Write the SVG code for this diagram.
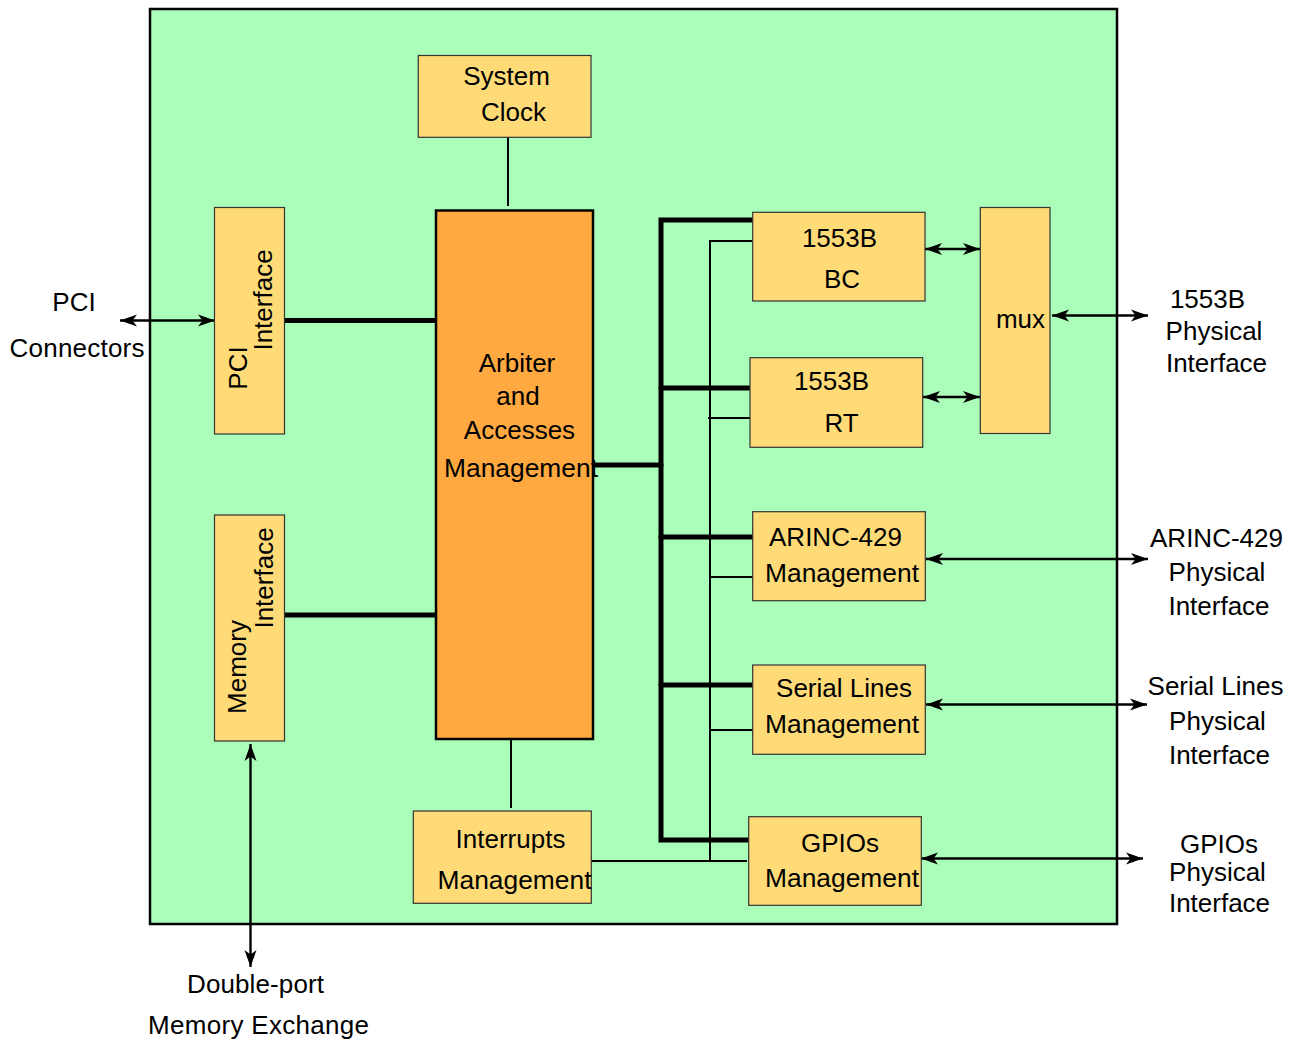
<svg xmlns="http://www.w3.org/2000/svg" width="1300" height="1043" viewBox="0 0 1300 1043">
<style>
text{font-family:"Liberation Sans",Arial,sans-serif;font-size:26px;fill:#000;text-anchor:middle}
.box{fill:#FFDB78;stroke:#333;stroke-width:1.2}
.thick{stroke:#000;stroke-width:5;stroke-linecap:round;fill:none}
.thin{stroke:#000;stroke-width:2;fill:none}
.arr{stroke:#000;stroke-width:2.4;fill:none;marker-start:url(#ah);marker-end:url(#ah)}
</style>
<defs>
<marker id="ah" viewBox="0 0 17 13" refX="17" refY="6.5" markerWidth="17" markerHeight="13" markerUnits="userSpaceOnUse" orient="auto-start-reverse">
<path d="M17,6.5 L0,0.5 L4.5,6.5 L0,12.5 Z" fill="#000"/>
</marker>
</defs>
<rect id="board" x="150" y="9" width="967" height="915" fill="#ABFEB9" stroke="#000" stroke-width="2.5"/>
<g id="connectors">
<line class="thin" x1="508" y1="137" x2="508" y2="206"/>
<line class="thin" x1="511" y1="739" x2="511" y2="808"/>
<line class="thick" x1="284" y1="320.5" x2="436" y2="320.5"/>
<line class="thick" x1="284" y1="615" x2="436" y2="615"/>
<line class="thick" x1="593" y1="465" x2="661" y2="465"/>
<polyline class="thick" points="752,220 661,220 661,840 752,840"/>
<line class="thick" x1="661" y1="388" x2="756" y2="388"/>
<line class="thick" x1="661" y1="537" x2="755" y2="537"/>
<line class="thick" x1="661" y1="685" x2="755" y2="685"/>
<polyline class="thin" points="752,241 710,241 710,861"/>
<line class="thin" x1="708" y1="418" x2="750" y2="418"/>
<line class="thin" x1="710" y1="577" x2="753" y2="577"/>
<line class="thin" x1="710" y1="730" x2="753" y2="730"/>
<line class="thin" x1="591" y1="861" x2="747" y2="861"/>
<line class="arr" x1="120" y1="320.5" x2="215" y2="320.5"/>
<line class="arr" x1="250.5" y1="744" x2="250.5" y2="967"/>
<line class="arr" x1="925" y1="249" x2="980" y2="249"/>
<line class="arr" x1="923" y1="397" x2="980" y2="397"/>
<line class="arr" x1="1052" y1="315.5" x2="1148" y2="315.5"/>
<line class="arr" x1="926" y1="559" x2="1148" y2="559"/>
<line class="arr" x1="926" y1="704.5" x2="1147" y2="704.5"/>
<line class="arr" x1="921" y1="858.5" x2="1143" y2="858.5"/>
</g>
<g id="clock"><rect class="box" x="418.3" y="55.5" width="172.7" height="81.8"/><text x="506.5" y="85">System</text><text x="513.5" y="121">Clock</text></g>
<g id="arbiter"><rect x="436" y="210.5" width="157" height="528.5" fill="#FFA940" stroke="#000" stroke-width="2.5"/><text x="517" y="372">Arbiter</text><text x="518" y="405">and</text><text x="519.5" y="439">Accesses</text><text x="521" y="476.5" textLength="154" lengthAdjust="spacingAndGlyphs">Management</text></g>
<g id="pci"><rect class="box" x="214.5" y="207.5" width="70" height="226.5"/><text transform="translate(247,368) rotate(-90)">PCI</text><text transform="translate(272,300) rotate(-90)">Interface</text></g>
<g id="memory"><rect class="box" x="214.5" y="515" width="70" height="226"/><text transform="translate(245.5,667) rotate(-90)">Memory</text><text transform="translate(273,578) rotate(-90)">Interface</text></g>
<g id="interrupts"><rect class="box" x="413.3" y="811" width="178" height="92.3"/><text x="510.5" y="848">Interrupts</text><text x="514.5" y="889" textLength="154" lengthAdjust="spacingAndGlyphs">Management</text></g>
<g id="bc"><rect class="box" x="752.7" y="212.3" width="172.3" height="88.7"/><text x="839.5" y="247">1553B</text><text x="842" y="288">BC</text></g>
<g id="rt"><rect class="box" x="750" y="357.7" width="172.7" height="89.6"/><text x="831.5" y="390">1553B</text><text x="841.5" y="432">RT</text></g>
<g id="mux"><rect class="box" x="980.3" y="207.5" width="69.7" height="226"/><text x="1020.5" y="328">mux</text></g>
<g id="arinc"><rect class="box" x="752.7" y="511.7" width="172.6" height="89"/><text x="835.5" y="546">ARINC-429</text><text x="842" y="582" textLength="154" lengthAdjust="spacingAndGlyphs">Management</text></g>
<g id="serial"><rect class="box" x="752.7" y="665" width="172.6" height="89.3"/><text x="844" y="697">Serial Lines</text><text x="842" y="733" textLength="154" lengthAdjust="spacingAndGlyphs">Management</text></g>
<g id="gpio"><rect class="box" x="748.7" y="816.7" width="172.6" height="88.6"/><text x="840" y="852">GPIOs</text><text x="842" y="887" textLength="154" lengthAdjust="spacingAndGlyphs">Management</text></g>
<g id="labels">
<text x="74" y="311">PCI</text><text x="77" y="357" textLength="135">Connectors</text>
<text x="255.5" y="993" textLength="137">Double-port</text><text x="258.5" y="1034" textLength="221">Memory Exchange</text>
<text x="1207.5" y="308">1553B</text><text x="1214" y="339.5">Physical</text><text x="1216.5" y="372">Interface</text>
<text x="1216.5" y="546.5">ARINC-429</text><text x="1217" y="581">Physical</text><text x="1219" y="615">Interface</text>
<text x="1215.5" y="694.5">Serial Lines</text><text x="1217.5" y="730">Physical</text><text x="1219.5" y="763.5">Interface</text>
<text x="1219" y="852.5">GPIOs</text><text x="1217.5" y="880.5">Physical</text><text x="1219.5" y="911.5">Interface</text>
</g>
</svg>
